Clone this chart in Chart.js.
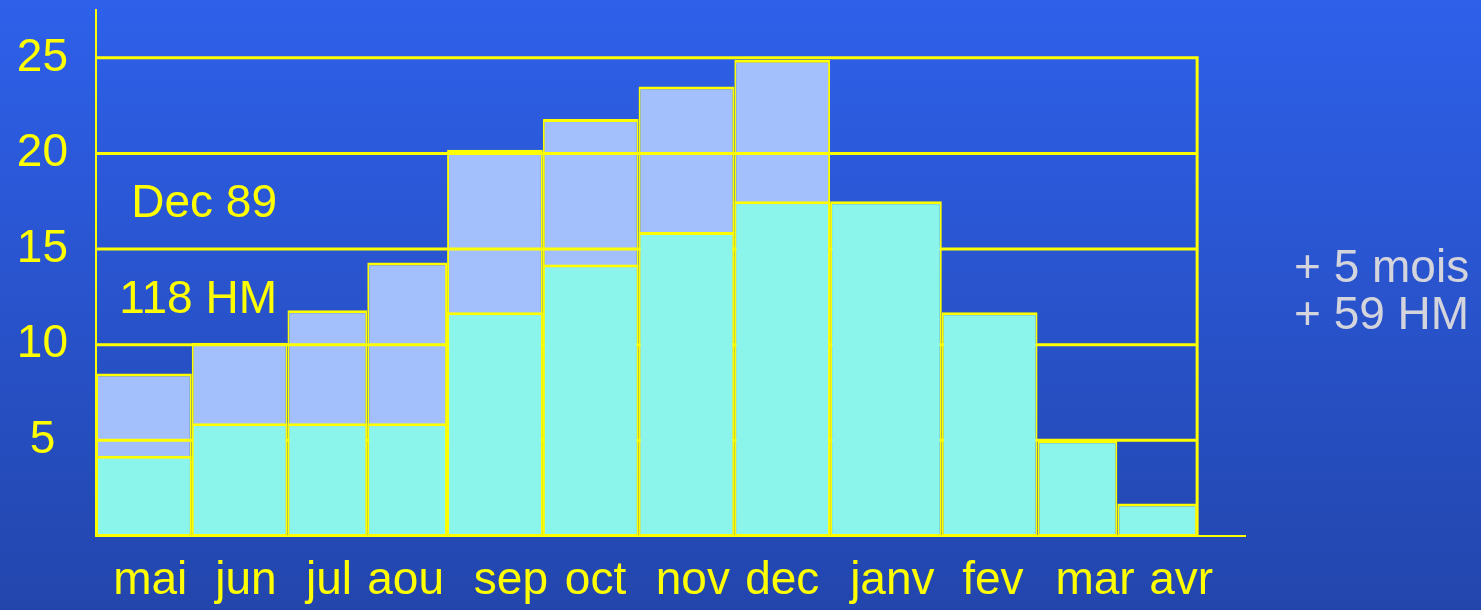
<!DOCTYPE html>
<html>
<head>
<meta charset="utf-8">
<title>Plan de charge</title>
<script src="https://cdn.jsdelivr.net/npm/chart.js@4.4.1/dist/chart.umd.min.js"></script>
<style>
  html, body { margin: 0; padding: 0; overflow: hidden; background: #2a52cc; }
  #wrap { width: 1481px; height: 610px; }
</style>
</head>
<body>
<div id="wrap"><canvas id="c" width="1481" height="610"></canvas></div>
<script>
// Monthly load (man-months per month)
const months = ['mai', 'jun', 'jul', 'aou', 'sep', 'oct', 'nov', 'dec', 'janv', 'fev', 'mar', 'avr'];
const planDec89 = [4.2, 5.9, 5.9, 5.9, 11.7, 14.2, 15.9, 17.5, 17.5, 11.7, 5.0, 1.7];
const revised = [8.5, 10.1, 11.8, 14.3, 20.2, 21.8, 23.5, 24.9, null, null, null, null];
const yTicks = [5, 10, 15, 20, 25];

// Layout: width of each month column and label anchor, in x-axis units
const monthSpan = [6, 6, 5, 5, 6, 6, 6, 6, 7, 6, 5, 5];
const labelAt = [3.4, 9.4, 14.6, 19.4, 26.0, 31.3, 37.4, 43.0, 49.9, 56.2, 62.6, 68.0];
const spanStart = monthSpan.reduce((acc, w, i) => { acc.push(i ? acc[i - 1] + monthSpan[i - 1] : 0); return acc; }, []);
const spanEnd = spanStart[spanStart.length - 1] + monthSpan[monthSpan.length - 1];

const YELLOW = '#ffff00';
const FONT = "'Liberation Sans', Arial, sans-serif";

// Bar controller whose columns cover [start, start + span] on the x scale
const BaseBar = Chart.BarController || Chart.registry.getController('bar');
class SpanBarController extends BaseBar {
  _calculateBarIndexPixels(index, ruler) {
    const scale = this._cachedMeta.iScale;
    const a = scale.getPixelForValue(spanStart[index]);
    const b = scale.getPixelForValue(spanStart[index] + monthSpan[index]);
    return { base: a, head: b, center: (a + b) / 2, size: b - a };
  }
}
SpanBarController.id = 'spanbar';
SpanBarController.defaults = BaseBar.defaults;
SpanBarController.overrides = BaseBar.overrides;
Chart.register(SpanBarController);

const toPoints = vals => vals.map((v, i) => ({ x: spanStart[i] + monthSpan[i] / 2, y: v }));

// Slide background
const backdrop = {
  id: 'backdrop',
  beforeDraw(chart) {
    const { ctx, width, height } = chart;
    const g = ctx.createLinearGradient(0, 0, 0, height);
    g.addColorStop(0, '#2e60ea');
    g.addColorStop(1, '#2346ad');
    ctx.save();
    ctx.fillStyle = g;
    ctx.fillRect(0, 0, width, height);
    ctx.restore();
  }
};

// Horizontal rules over the back columns, under the front ones
const rules = {
  id: 'rules',
  afterDatasetDraw(chart, args) {
    if (args.index !== 1) return;
    const { ctx, scales: { x, y } } = chart;
    const x0 = x.getPixelForValue(0);
    const x1 = x.getPixelForValue(spanEnd);
    ctx.save();
    ctx.strokeStyle = YELLOW;
    ctx.lineWidth = 3;
    ctx.beginPath();
    yTicks.forEach(v => {
      const py = y.getPixelForValue(v);
      ctx.moveTo(x0, py);
      ctx.lineTo(x1 + 1.5, py);
    });
    ctx.moveTo(x1, y.getPixelForValue(yTicks[yTicks.length - 1]));
    ctx.lineTo(x1, y.getPixelForValue(0));
    ctx.stroke();
    ctx.restore();
  }
};

// Text notes
const notes = {
  id: 'notes',
  afterDraw(chart) {
    const { ctx } = chart;
    ctx.save();
    ctx.font = '46px ' + FONT;
    ctx.textBaseline = 'alphabetic';
    ctx.fillStyle = YELLOW;
    ctx.textAlign = 'right';
    ctx.fillText('Dec 89', 277, 217);
    ctx.fillText('118 HM', 277, 313);
    ctx.fillStyle = '#d4d4dc';
    ctx.textAlign = 'left';
    ctx.fillText('+ 5 mois', 1294, 282);
    ctx.fillText('+ 59 HM', 1294, 329);
    ctx.restore();
  }
};

const barBorder = { top: 3, left: 2, right: 2, bottom: 2 };

new Chart(document.getElementById('c'), {
  type: 'spanbar',
  data: {
    datasets: [
      {
        label: 'Dec 89',
        data: toPoints(planDec89),
        backgroundColor: '#8cf5eb',
        borderColor: YELLOW,
        borderWidth: barBorder,
        borderSkipped: false,
        grouped: false
      },
      {
        label: 'revised',
        data: toPoints(revised),
        backgroundColor: '#a3c0fd',
        borderColor: YELLOW,
        borderWidth: barBorder,
        borderSkipped: false,
        grouped: false
      }
    ]
  },
  options: {
    responsive: false,
    animation: false,
    devicePixelRatio: 1,
    layout: { padding: { top: 10, right: 236, left: 0, bottom: 0 } },
    plugins: { legend: { display: false }, tooltip: { enabled: false } },
    scales: {
      x: {
        type: 'linear',
        min: 0,
        max: 72,
        offset: false,
        grid: { display: false, drawTicks: false, offset: false },
        border: { display: true, color: YELLOW, width: 2 },
        afterBuildTicks(scale) { scale.ticks = labelAt.map(v => ({ value: v })); },
        afterFit(scale) {
          scale.height = 74;
          scale.paddingLeft = 0; scale.paddingRight = 0;
          scale.paddingTop = 0; scale.paddingBottom = 0;
        },
        ticks: {
          autoSkip: false,
          maxRotation: 0,
          minRotation: 0,
          padding: 18,
          color: YELLOW,
          font: { family: FONT, size: 46 },
          callback: (v, i) => months[i]
        }
      },
      y: {
        type: 'linear',
        min: 0,
        max: 27.5,
        grid: { display: false, drawTicks: false },
        border: { display: true, color: YELLOW, width: 2 },
        afterBuildTicks(scale) { scale.ticks = yTicks.map(v => ({ value: v })); },
        afterFit(scale) {
          scale.width = 96;
          scale.paddingLeft = 0; scale.paddingRight = 0;
          scale.paddingTop = 0; scale.paddingBottom = 0;
        },
        ticks: {
          crossAlign: 'center',
          padding: 28,
          color: YELLOW,
          font: { family: FONT, size: 46 }
        }
      }
    }
  },
  plugins: [backdrop, rules, notes]
});
</script>
</body>
</html>
